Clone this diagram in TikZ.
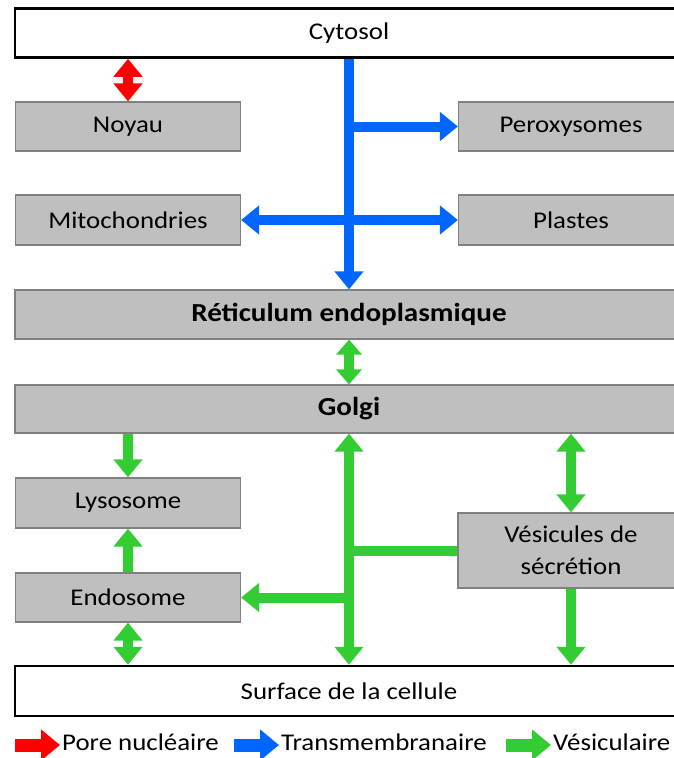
\documentclass[tikz,border=0pt]{standalone}
\usepackage{fontspec}
\setmainfont{Carlito}[FakeStretch=1.12]
\usetikzlibrary{calc}
\usetikzlibrary{arrows.meta}

\definecolor{porered}{HTML}{FF0000}
\definecolor{transblue}{HTML}{0066FF}
\definecolor{vesgreen}{HTML}{33CC33}
\definecolor{boxgray}{HTML}{BFBFBF}
\definecolor{edgegray}{HTML}{808080}

\begin{document}
\begin{tikzpicture}[x=1pt, y=-1pt,
  organite/.style={draw=edgegray, line width=1.2pt, fill=boxgray, minimum width=225pt,
    minimum height=49pt, inner sep=0pt, align=center, font=\fontsize{24}{32}\selectfont},
  milieu/.style={organite, draw=black, fill=white, line width=2.5pt, minimum width=668pt},
  grand/.style={organite, minimum width=668pt, font=\fontsize{26}{32}\selectfont\bfseries},
  flux/.style={line width=10pt, >={Triangle[width=28pt,length=18pt]}},
  fluxcourt/.style={line width=10pt, >={Triangle[width=25pt,length=15pt]}}]
\useasboundingbox (0,0) rectangle (674,758);

% compartiments
\node[milieu] (cyt) at (349,33) {Cytosol};
\node[organite] (noyau) at (128,126.5) {Noyau};
\node[organite] (perox) at (571,126.5) {Peroxysomes};
\node[organite, minimum height=50pt] (mito) at (128,220) {Mitochondries};
\node[organite, minimum height=50pt] (plastes) at (571,220) {Plastes};
\node[grand] (ret) at (349,314.5) {Réticulum endoplasmique};
\node[grand, minimum height=48pt] (golgi) at (349,409) {Golgi};
\node[organite, minimum height=50pt] (lyso) at (128,503) {Lysosome};
\node[organite] (endo) at (128,597.5) {Endosome};
\node[organite, minimum width=226pt, minimum height=75pt] (vesic) at (571,550.5) {Vésicules de\\sécrétion};
\node[milieu, minimum height=50pt] (surf) at (349,691) {Surface de la cellule};

% pore nucleaire
\draw[flux, porered, <->] (noyau.north) -- (noyau.north |- cyt.south);

% transmembranaire
\draw[flux, transblue, ->] (cyt.south) -- (ret.north);
\draw[flux, transblue, ->] (perox.west -| cyt.south) -- (perox.west);
\draw[flux, transblue, <->] (mito.east) -- (plastes.west);

% vesiculaire
\draw[fluxcourt, vesgreen, <->] (ret.south) -- (golgi.north);
\draw[flux, vesgreen, ->] (lyso.north |- golgi.south) -- (lyso.north);
\draw[flux, vesgreen, ->] (endo.north) -- (lyso.south);
\draw[flux, vesgreen, <->] (endo.south) -- (endo.south |- surf.north);
\draw[flux, vesgreen, <->] (golgi.south) -- (surf.north);
\draw[flux, vesgreen, ->] (endo.east -| golgi.south) -- (endo.east);
\draw[flux, vesgreen] (vesic.west) -- (vesic.west -| golgi.south);
\draw[flux, vesgreen, <->] (vesic.north |- golgi.south) -- (vesic.north);
\draw[flux, vesgreen, ->] (vesic.south) -- (vesic.south |- surf.north);

% legende
\foreach \x/\couleur/\texte [count=\i] in {15/porered/Pore nucléaire, 234/transblue/Transmembranaire, 506/vesgreen/Vésiculaire}{
  \coordinate (leg\i) at (\x,745);
  \draw[\couleur, line width=13pt, -{Triangle[width=30pt,length=19pt]}] (leg\i) -- ++(45,0) coordinate (tip\i);
  \node[anchor=base west, inner sep=0pt, font=\fontsize{24}{28}\selectfont] (legtxt\i) at ($(tip\i)+(2,5)$) {\texte};
}
\end{tikzpicture}
\end{document}
